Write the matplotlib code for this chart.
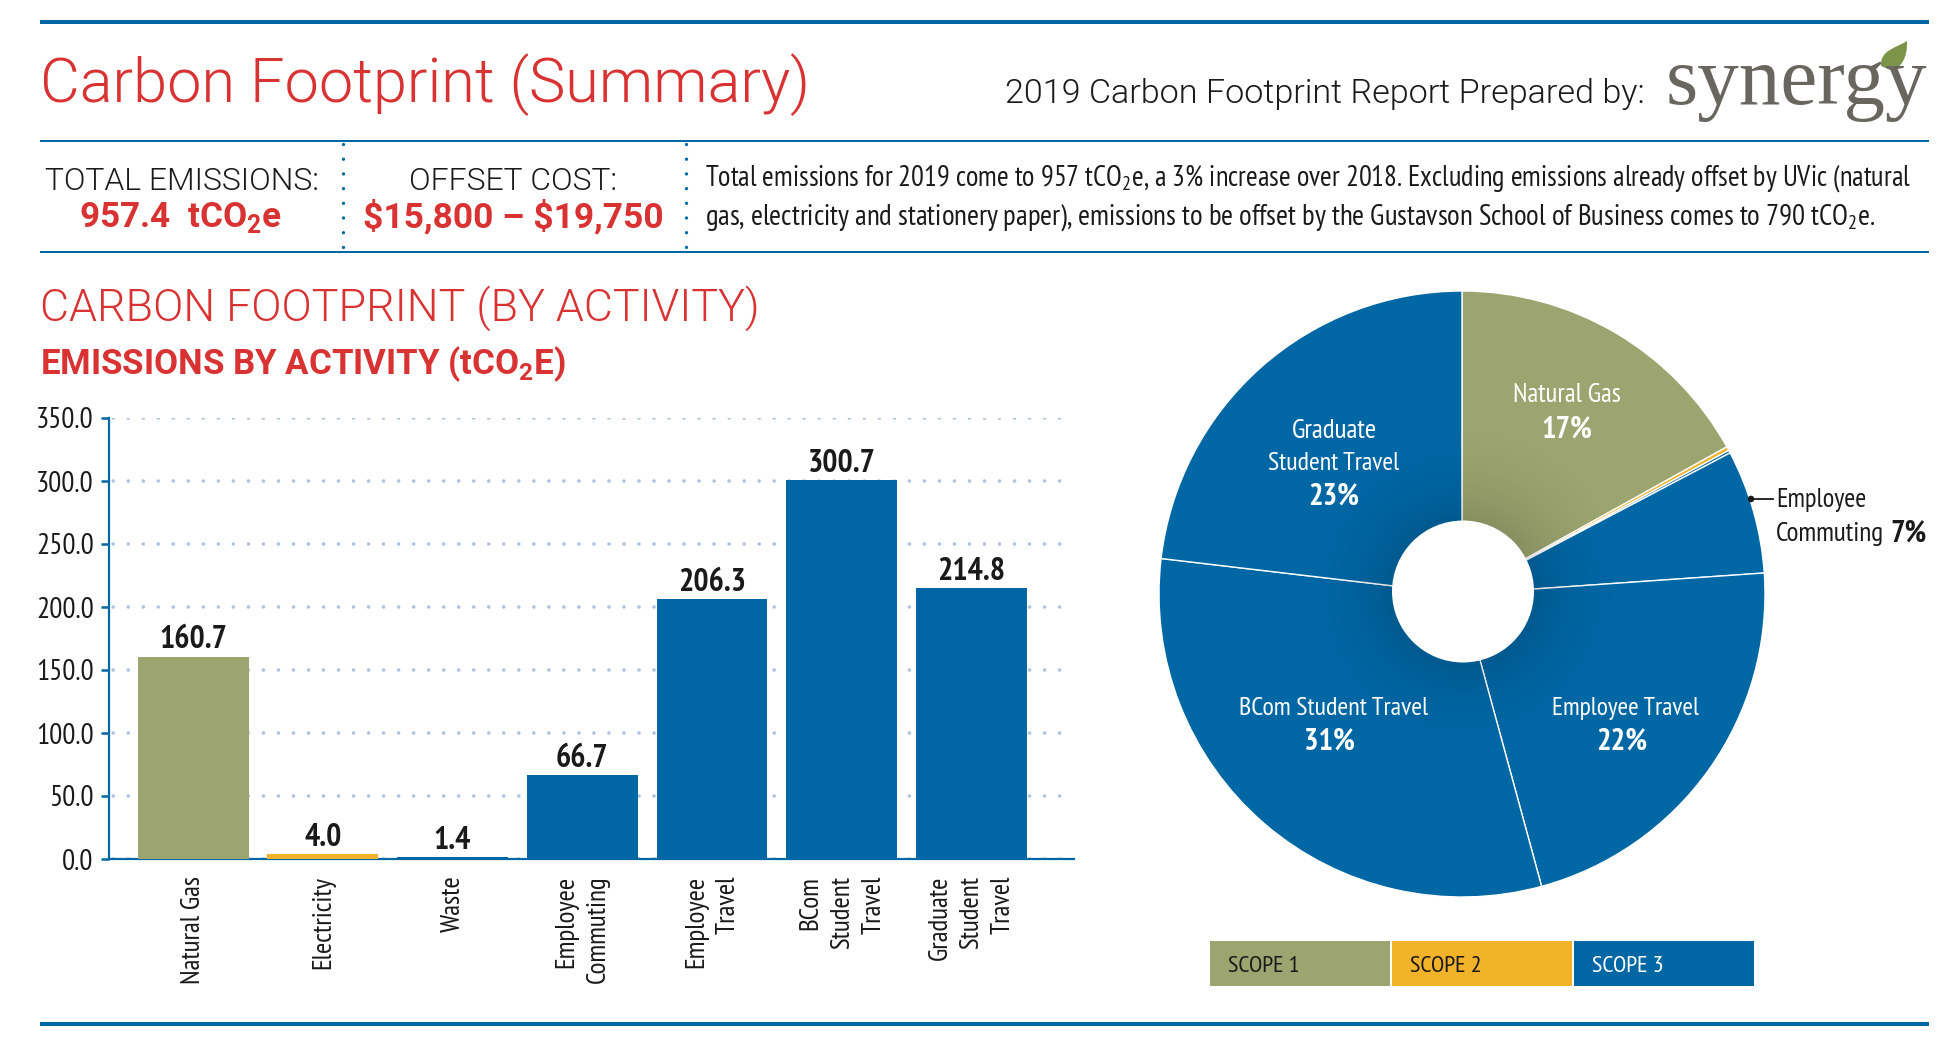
import numpy as np
import matplotlib
matplotlib.use('Agg')
import matplotlib.pyplot as plt
from matplotlib.patches import PathPatch, Rectangle, Circle
from matplotlib.path import Path

W, H = 1940, 1046

categories = ['Natural Gas', 'Electricity', 'Waste', 'Employee\nCommuting', 'Employee\nTravel',
              'BCom\nStudent\nTravel', 'Graduate\nStudent\nTravel']
emissions = [160.7, 4.0, 1.4, 66.7, 206.3, 300.7, 214.8]
# the pie slices in the picture do not quite follow the bars, read off separately
pie_values = [161.7, 2.0, 1.4, 63.1, 208.9, 297.0, 220.9]
scopes = [1, 2, 3, 3, 3, 3, 3]
y_ticks = [0, 50, 100, 150, 200, 250, 300, 350]
scope_names = ['SCOPE 1', 'SCOPE 2', 'SCOPE 3']

BLUE = '#0067a5'
OLIVE = '#9ca56f'
YELLOW = '#f2b229'
RED = '#d93232'
INK = '#1a1a1a'
scope_colors = {1: OLIVE, 2: YELLOW, 3: BLUE}

NARROW = ['PT Sans Narrow', 'Roboto', 'DejaVu Sans']
PLAIN = ['Roboto', 'DejaVu Sans']


def axes_px(left, top, right, bottom):
    return fig.add_axes([left / W, 1 - bottom / H, (right - left) / W, (bottom - top) / H])


fig = plt.figure(figsize=(W / 100, H / 100), dpi=100, facecolor='white')
renderer = fig.canvas.get_renderer()

# bars
ax = axes_px(109, 418, 1074, 859)
colors = [scope_colors[s] for s in scopes]
bars = ax.bar(range(len(emissions)), emissions, width=0.855, color=colors, zorder=3)
ax.bar_label(bars, fmt='%.1f', padding=1, family=NARROW, weight='bold', fontsize=23, color=INK)
ax.set_xlim(-0.648, 6.79)
ax.set_ylim(0, 350)
ax.set_yticks(y_ticks)
ax.set_yticklabels(['%.1f' % v for v in y_ticks], family=NARROW, fontsize=21, color=INK)
ax.set_xticks(range(len(categories)))
ax.set_xticklabels(categories, rotation=90, family=NARROW, fontsize=19.5, color=INK,
                   va='top', ha='center', multialignment='right', linespacing=1.4)
ax.tick_params(axis='x', length=0, pad=12)
ax.tick_params(axis='y', length=6, width=1.8, color=BLUE, pad=5)
ax.grid(axis='y', color='#afc3e0', linewidth=2.6, linestyle=(3, (0.01, 4.15)), dash_capstyle='round', zorder=1)
ax.set_axisbelow(True)
for side in ['top', 'right']:
    ax.spines[side].set_visible(False)
for side in ['left', 'bottom']:
    ax.spines[side].set_color(BLUE)
    ax.spines[side].set_linewidth(1.6)

# pie, hole is drawn on top since it sits a bit off centre
R = 303
pax = axes_px(1462 - R, 594 - R, 1462 + R, 594 + R)
pax.pie(pie_values, colors=colors, startangle=90, counterclock=False, radius=1,
        wedgeprops=dict(edgecolor='white', linewidth=1.0))
hx, hy, hr = 1 / R, 2.5 / R, 71 / R
gx, gy = np.meshgrid(np.linspace(-1, 1, 400), np.linspace(1, -1, 400))
dist = np.hypot(gx - hx, gy - hy)
shade = np.zeros((400, 400, 4))
shade[..., 3] = 0.13 * np.clip(1 - (dist - hr) / 0.35, 0, 1) ** 2
pax.imshow(shade, extent=(-1, 1, -1, 1), zorder=5)
pax.add_patch(Circle((hx, hy), hr, facecolor='white', edgecolor='none', zorder=6))
pax.set_xlim(-1, 1)
pax.set_ylim(-1, 1)
pax.axis('off')

# overlay in pixel coordinates for all the report text
ov = fig.add_axes([0, 0, 1, 1], facecolor='none')
ov.set_xlim(0, W)
ov.set_ylim(H, 0)
ov.axis('off')

for y, lw in [(21.5, 4), (141, 2), (252, 2), (1024, 4)]:
    ov.plot([40, 1929], [y, y], color=BLUE, linewidth=lw * 0.72, solid_capstyle='butt')
for x in [343, 686]:
    ov.plot([x, x], [144, 247], color=BLUE, linewidth=2.4, linestyle=(0, (0.01, 4.4)), dash_capstyle='round')


def label(x, y, s, size, color=INK, family=NARROW, weight='normal', ha='left', va='baseline', width=None):
    t = ov.text(x, y, s, fontsize=size, color=color, family=family, weight=weight, ha=ha, va=va)
    if width:
        # fonts differ from the original, fit to the width measured on the picture
        t.set_fontsize(size * width / t.get_window_extent(renderer).width)
    return t


label(40, 102, 'Carbon Footprint (Summary)', 46, RED, PLAIN, 300, width=770)
label(1005, 103, '2019 Carbon Footprint Report Prepared by:', 26, INK, PLAIN, 300, width=641)
label(1666, 104, 'synergy', 59, '#69665f', ['Liberation Serif'], width=262)
leaf = Path([(1881, 66), (1880, 50), (1896, 48), (1907, 41), (1908, 58), (1900, 70), (1890, 70), (1881, 66)],
            [Path.MOVETO, Path.CURVE4, Path.CURVE4, Path.CURVE4, Path.CURVE4, Path.CURVE4, Path.CURVE4, Path.LINETO])
ov.add_patch(PathPatch(leaf, facecolor='#7c9448', edgecolor='none'))

label(181.5, 190, 'TOTAL EMISSIONS:', 26, INK, PLAIN, 300, ha='center', width=274)
label(181, 227, r'957.4  tCO$_{\mathregular{2}}$e', 25, RED, PLAIN, 'bold', ha='center', width=203)
label(513.5, 190, 'OFFSET COST:', 26, INK, PLAIN, 300, ha='center', width=208)
label(513, 227, '$15,800 \u2013 $19,750'.replace('$', r'\$'), 25, RED, PLAIN, 'bold', ha='center', width=301)
label(705, 186, r'Total emissions for 2019 come to 957 tCO$_{\mathregular{2}}$e, a 3% increase over 2018. '
      'Excluding emissions already offset by UVic (natural', 22, width=1206)
label(705, 225, r'gas, electricity and stationery paper), emissions to be offset by the Gustavson School of '
      r'Business comes to 790 tCO$_{\mathregular{2}}$e.', 22, width=1169)

label(40, 321, 'CARBON FOOTPRINT (BY ACTIVITY)', 36, RED, PLAIN, 300, width=720)
label(40, 374, r'EMISSIONS BY ACTIVITY (tCO$_{\mathregular{2}}$E)', 25, RED, PLAIN, 'bold', width=526)

# pie labels
label(1567, 395.5, 'Natural Gas', 21, 'white', ha='center', va='center', width=108)
label(1567, 429.5, '17%', 22, 'white', weight='bold', ha='center', va='center')
label(1334, 430.5, 'Graduate', 21, 'white', ha='center', va='center', width=85)
label(1334, 463.5, 'Student Travel', 21, 'white', ha='center', va='center', width=131)
label(1334, 496.5, '23%', 22, 'white', weight='bold', ha='center', va='center')
label(1334, 708.5, 'BCom Student Travel', 21, 'white', ha='center', va='center', width=189)
label(1329, 741.5, '31%', 22, 'white', weight='bold', ha='center', va='center')
label(1626, 708.5, 'Employee Travel', 21, 'white', ha='center', va='center', width=147)
label(1622, 741.5, '22%', 22, 'white', weight='bold', ha='center', va='center')
label(1776, 499.5, 'Employee', 21, va='center', width=90)
label(1776, 533.5, 'Commuting', 21, va='center', width=108)
label(1890, 533.5, '7%', 22, weight='bold', va='center', width=36)
ov.plot([1751, 1773], [499, 499], color=INK, linewidth=1.3)
ov.add_patch(Circle((1751, 499), 2.6, color=INK))

# scope legend
for (x0, x1), name, c, tc in zip([(1210, 1390), (1392, 1572), (1574, 1754)], scope_names,
                                 [OLIVE, YELLOW, BLUE], [INK, INK, 'white']):
    ov.add_patch(Rectangle((x0, 941), x1 - x0, 45, facecolor=c, edgecolor='none'))
    label(x0 + 18, 972.5, name, 21, tc, width=72)

fig.savefig('out.png', dpi=100, facecolor='white')
